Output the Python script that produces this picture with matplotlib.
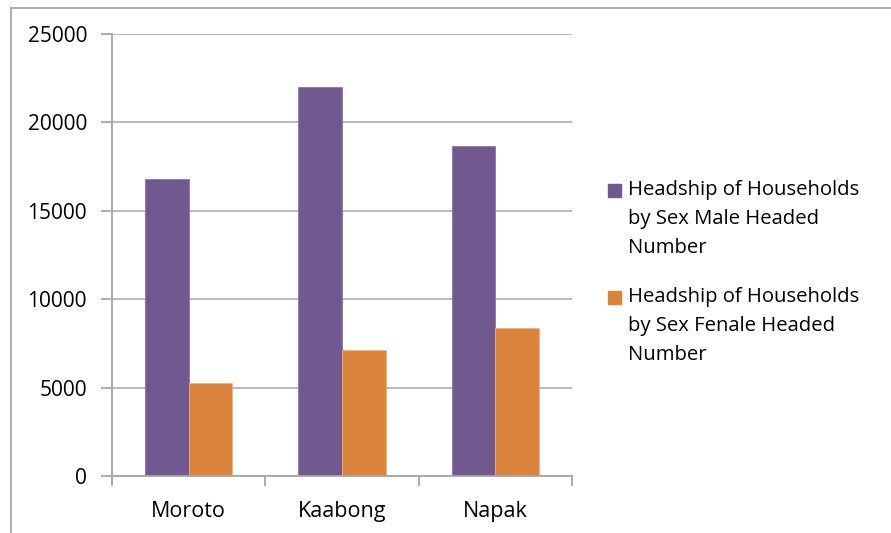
import numpy as np
import matplotlib
matplotlib.use("Agg")
from matplotlib import pyplot as plt
from matplotlib.lines import Line2D
from matplotlib.patches import Rectangle

districts = ["Moroto", "Kaabong", "Napak"]
male_headed = [16800, 22000, 18650]
female_headed = [5250, 7150, 8380]
series_labels = ["Headship of Households\nby Sex Male Headed\nNumber",
                 "Headship of Households\nby Sex Fenale Headed\nNumber"]
series_colors = ["#71588f", "#db843d"]

plt.rcParams['font.family'] = ['Open Sans', 'DejaVu Sans']

W, H = 891, 533
fig = plt.figure(figsize=(W / 100, H / 100), dpi=100)
ax = fig.add_axes([112 / W, 57 / H, 460 / W, 442 / H])

x = np.arange(len(districts))
w = 0.285
ax.bar(x - w / 2, male_headed, w, color=series_colors[0], edgecolor="#8a76a6", linewidth=0.6)
ax.bar(x + w / 2, female_headed, w, color=series_colors[1], edgecolor="#f0b07e", linewidth=0.6)

ax.set_xlim(-0.5, 2.5)
ax.set_ylim(0, 25000)
ax.set_yticks(range(0, 25001, 5000))
ax.set_xticks(x)
ax.set_xticklabels(districts, fontsize=15.5)
ax.set_xticks([-0.5, 0.5, 1.5, 2.5], minor=True)
ax.tick_params(axis='x', which='major', length=0, pad=18)
ax.tick_params(axis='x', which='minor', length=7, color="#a6a6a6", width=1.3)
ax.tick_params(axis='y', length=8, color="#a6a6a6", width=1.3, labelsize=15, pad=10)

ax.grid(axis='y', color="#b3b3b3", linewidth=1.3)
ax.set_axisbelow(True)
for s in ["top", "right"]:
    ax.spines[s].set_visible(False)
for s in ["left", "bottom"]:
    ax.spines[s].set_color("#a6a6a6")
    ax.spines[s].set_linewidth(1.3)

# legend, Excel style: marker next to first line
first_line_y = [190, 297]
for label, color, y0 in zip(series_labels, series_colors, first_line_y):
    fig.add_artist(Rectangle((608 / W, 1 - (y0 + 7) / H), 13 / W, 13 / H,
                             transform=fig.transFigure, color=color))
    for i, line in enumerate(label.split("\n")):
        fig.text(628 / W, 1 - (y0 + 29 * i) / H, line, fontsize=14.6,
                 ha='left', va='center')

# outer chart frame
fig.add_artist(Line2D([11 / W, 11 / W], [0, 1 - 7.5 / H],
                      transform=fig.transFigure, color="#a6a6a6", linewidth=1.3))
fig.add_artist(Line2D([11 / W, 1], [1 - 7.5 / H, 1 - 7.5 / H],
                      transform=fig.transFigure, color="#a6a6a6", linewidth=1.3))

fig.savefig("out.png", dpi=100)
